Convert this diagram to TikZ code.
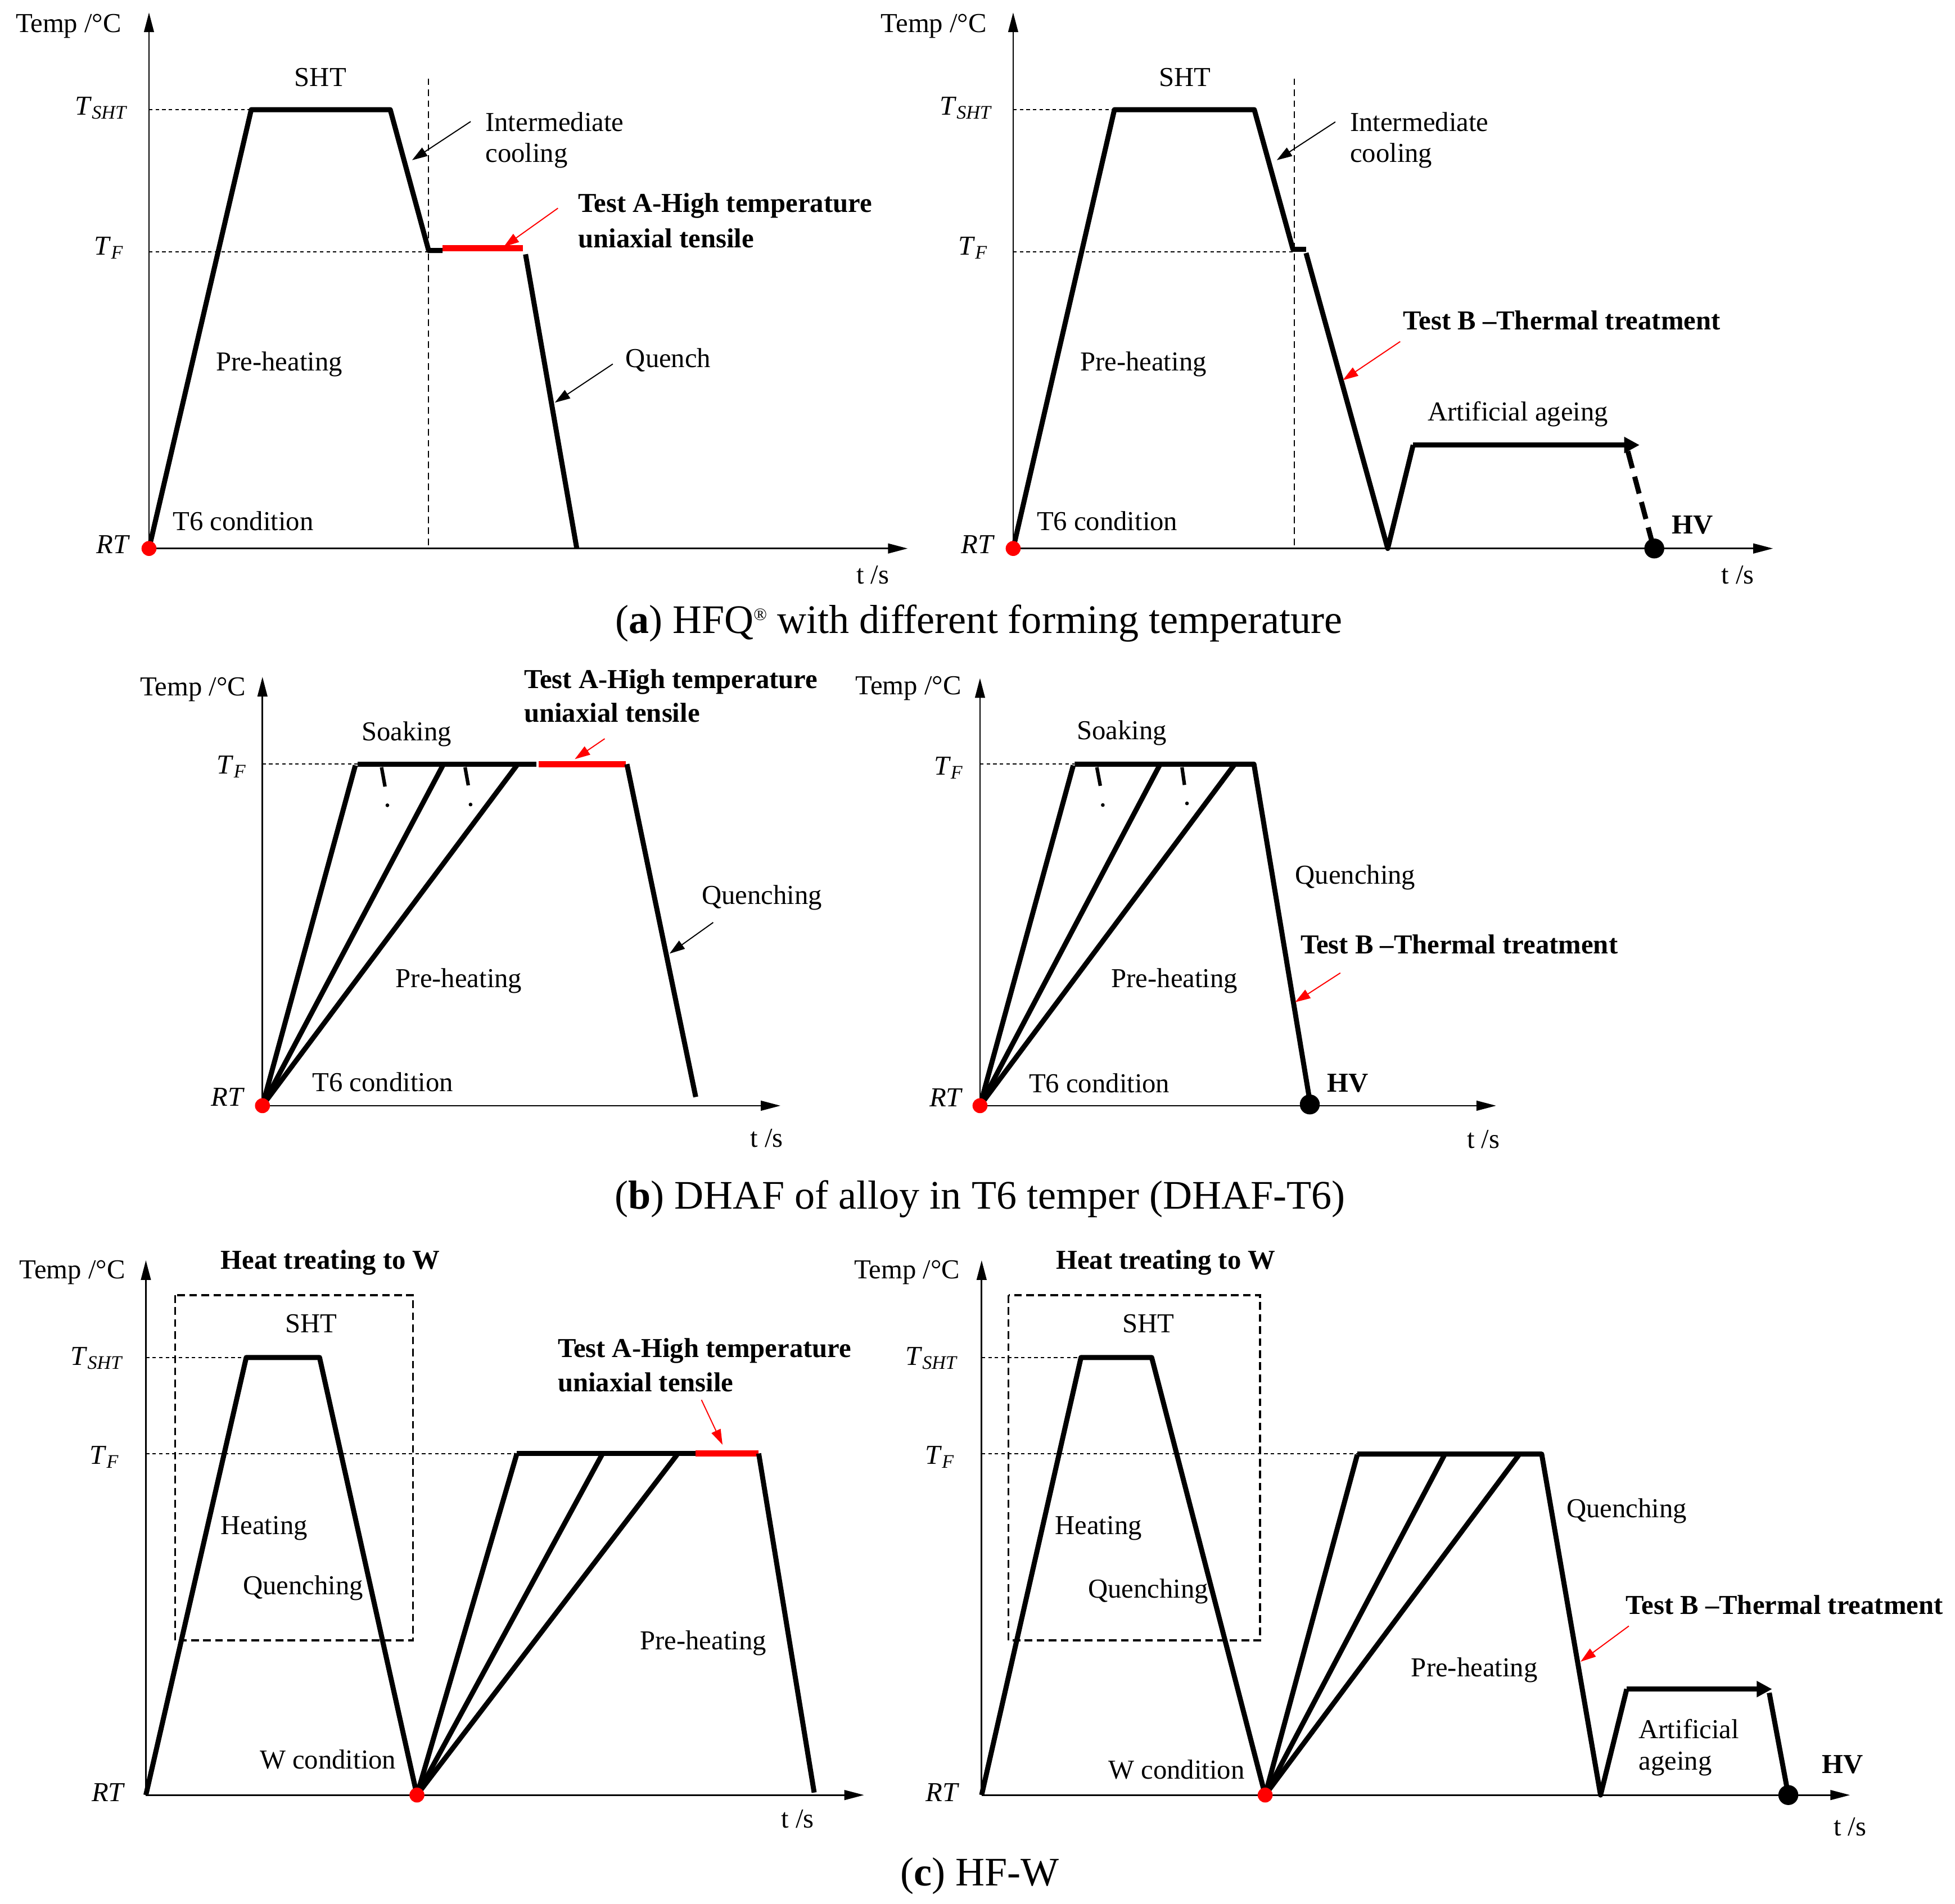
\documentclass[tikz,border=0pt]{standalone}
\usepackage{fontspec}
\setmainfont{Liberation Serif}
\usetikzlibrary{arrows.meta}
\begin{document}
\begin{tikzpicture}[x=0.02cm,y=-0.02cm,
  axisln/.style={line width=0.7pt,-{Triangle[length=9pt,width=4.5pt]}},
  prof/.style={line width=2.3pt,line join=round},
  redseg/.style={line width=2.8pt,red},
  guide/.style={line width=0.5pt,dash pattern=on 1.6pt off 1.4pt},
  vguide/.style={line width=0.5pt,dash pattern=on 3pt off 2pt},
  boxd/.style={line width=0.9pt,dash pattern=on 3.5pt off 2pt},
  lbl/.style={inner sep=0pt,font=\fontsize{12.5}{14}\selectfont},
  blbl/.style={inner sep=0pt,font=\fontsize{12.5}{14}\selectfont\bfseries},
  captxt/.style={inner sep=0pt,font=\fontsize{18.5}{22}\selectfont},
  ann/.style={line width=0.5pt,-{Triangle[length=7pt,width=4.5pt]}},
  rann/.style={ann,red},
  rdot/.style={circle,fill=red,inner sep=0pt,minimum size=0.24cm},
  bdot/.style={circle,fill=black,inner sep=0pt,minimum size=0.32cm},
  ageing/.style={prof,-{Triangle[length=7pt,width=7pt]}},
  tickmk/.style={line width=1.6pt},
]
\useasboundingbox (0,0) rectangle (1568,1527);

% ================= Panel (a) left =================
\coordinate (aO) at (119.5,440);
\coordinate (aY) at (119.5,10);
\coordinate (aX) at (728,440);
\draw[guide] (119.5,88) -- (201.5,88);
\draw[guide] (119.5,202) -- (343.8,202);
\draw[vguide] (343.8,63) -- (343.8,440);
\draw[axisln] (aO) -- (aY);
\draw[axisln] (aO) -- (aX);
\draw[prof] (119.5,440) -- (201.5,88) -- (313,88) -- (343.8,201) -- (355,201);
\draw[redseg] (355,199) -- (419.5,199);
\draw[prof] (421.5,204) -- (462.6,440);
\node[rdot] (aRd) at (aO) {};
\node[lbl] (aTemp) at (55,21) {Temp /°C};
\node[lbl] (aSHT) at (257,62) {SHT};
\node[lbl] (aTs) at (81.5,86.5) {\textit{T}\textsubscript{\textit{SHT}}};
\node[lbl] (aTf) at (87.6,199) {\textit{T}\textsubscript{\textit{F}}};
\node[lbl] (aRT) at (91,437) {\textit{RT}};
\node[lbl,anchor=west] (aIC1) at (389,98) {Intermediate};
\node[lbl,anchor=west] (aIC2) at (389,125) {cooling};
\node[blbl,anchor=west] (aTA1) at (463.5,165) {Test A-High temperature};
\node[blbl,anchor=west] (aTA2) at (463.5,191) {uniaxial tensile};
\node[lbl] (aQ) at (536,289) {Quench};
\node[lbl] (aPH) at (224,292) {Pre-heating};
\node[lbl] (aT6) at (195,418) {T6 condition};
\node[lbl] (aTs2) at (700,461) {t /s};
\coordinate (aICs) at (377.5,97.5); \coordinate (aICe) at (330.5,128.5);
\draw[ann] (aICs) -- (aICe);
\coordinate (aTAs) at (447.5,167); \coordinate (aTAe) at (404,198);
\draw[rann] (aTAs) -- (aTAe);
\coordinate (aQs) at (491.5,292); \coordinate (aQe) at (445,323);
\draw[ann] (aQs) -- (aQe);

% ================= Panel (a) right =================
\coordinate (rO) at (812.6,440);
\coordinate (rY) at (812.6,10);
\coordinate (rX) at (1422,440);
\draw[guide] (812.6,88) -- (893.8,88);
\draw[guide] (812.6,202) -- (1038,202);
\draw[vguide] (1038,63) -- (1038,440);
\draw[axisln] (rO) -- (rY);
\draw[axisln] (rO) -- (rX);
\draw[prof] (812.6,440) -- (893.8,88) -- (1006,88) -- (1037,200) -- (1047.5,200);
\draw[prof] (1047.5,203) -- (1113,440) -- (1133.4,357);
\draw[ageing] (1133.4,357) -- (1315,357);
\draw[prof,dash pattern=on 8pt off 4pt] (1305.6,362) -- (1328,446);
\node[rdot] (rRd) at (rO) {};
\node[bdot] (rHVd) at (1326.8,440) {};
\node[lbl] (rTemp) at (749,21) {Temp /°C};
\node[lbl] (rSHT) at (950.4,62) {SHT};
\node[lbl] (rTs) at (775,86.5) {\textit{T}\textsubscript{\textit{SHT}}};
\node[lbl] (rTf) at (780.6,199) {\textit{T}\textsubscript{\textit{F}}};
\node[lbl] (rRT) at (784.3,437) {\textit{RT}};
\node[lbl,anchor=west] (rIC1) at (1082.5,98) {Intermediate};
\node[lbl,anchor=west] (rIC2) at (1082.5,125) {cooling};
\node[blbl,anchor=west] (rTB) at (1125,257) {Test B –Thermal treatment};
\node[lbl] (rAA) at (1217.4,332) {Artificial ageing};
\node[blbl] (rHV) at (1357.5,421) {HV};
\node[lbl] (rPH) at (917,292) {Pre-heating};
\node[lbl] (rT6) at (888,418) {T6 condition};
\node[lbl] (rTs2) at (1393.8,461) {t /s};
\coordinate (rICs) at (1071,97.8); \coordinate (rICe) at (1024,128.5);
\draw[ann] (rICs) -- (rICe);
\coordinate (rTBs) at (1123,274); \coordinate (rTBe) at (1077,305);
\draw[rann] (rTBs) -- (rTBe);

\node[captxt] (capa) at (785,500) {(\textbf{a}) HFQ\raisebox{0.7ex}{\fontsize{8}{9}\selectfont ®} with different forming temperature};

% ================= Panel (b) left =================
\coordinate (bO) at (210.5,887);
\coordinate (bY) at (210.5,543);
\coordinate (bX) at (626,887);
\draw[guide] (210.5,613) -- (287,613);
\draw[axisln] (bO) -- (bY);
\draw[axisln] (bO) -- (bX);
\draw[prof] (bO) -- (285,614);
\draw[prof] (bO) -- (355.2,614);
\draw[prof] (bO) -- (414.5,614);
\draw[prof] (287,613) -- (430,613);
\draw[redseg] (432,613) -- (501.7,613);
\draw[prof] (502.8,613) -- (558,880);
\draw[tickmk] (306,615.5) -- (308.8,631);
\fill (310.7,646) circle (0.03cm);
\draw[tickmk] (373,615.5) -- (375.6,630);
\fill (377.4,645.4) circle (0.03cm);
\node[rdot] (bRd) at (bO) {};
\node[lbl] (bTemp) at (154.8,553) {Temp /°C};
\node[lbl] (bTf) at (186,615) {\textit{T}\textsubscript{\textit{F}}};
\node[lbl] (bRT) at (183,880) {\textit{RT}};
\node[lbl] (bSoak) at (326,589) {Soaking};
\node[blbl,anchor=west] (bTA1) at (420,547) {Test A-High temperature};
\node[blbl,anchor=west] (bTA2) at (420,572) {uniaxial tensile};
\node[lbl] (bQ) at (611,720) {Quenching};
\node[lbl] (bPH) at (368,787) {Pre-heating};
\node[lbl] (bT6) at (307,868) {T6 condition};
\node[lbl] (bTs2) at (615,913) {t /s};
\coordinate (bTAs) at (485,592.6); \coordinate (bTAe) at (461,609);
\draw[rann] (bTAs) -- (bTAe);
\coordinate (bQs) at (572,740); \coordinate (bQe) at (537,765);
\draw[ann] (bQs) -- (bQe);

% ================= Panel (b) right =================
\coordinate (sO) at (786,887);
\coordinate (sY) at (786,544);
\coordinate (sX) at (1200,887);
\draw[guide] (786,613) -- (862,613);
\draw[axisln] (sO) -- (sY);
\draw[axisln] (sO) -- (sX);
\draw[prof] (sO) -- (860.8,614);
\draw[prof] (sO) -- (930,614);
\draw[prof] (sO) -- (989.6,614);
\draw[prof] (862,613) -- (1005.7,613) -- (1050.8,885);
\draw[tickmk] (879.7,615.5) -- (882.5,630.4);
\fill (884.5,645.8) circle (0.03cm);
\draw[tickmk] (948,615.5) -- (950,629.7);
\fill (952,644.5) circle (0.03cm);
\node[rdot] (sRd) at (sO) {};
\node[bdot] (sHVd) at (1050.5,886) {};
\node[lbl] (sTemp) at (728.7,552) {Temp /°C};
\node[lbl] (sTf) at (761,616) {\textit{T}\textsubscript{\textit{F}}};
\node[lbl] (sRT) at (759,880.5) {\textit{RT}};
\node[lbl] (sSoak) at (899.8,588) {Soaking};
\node[lbl] (sQ) at (1087,704) {Quenching};
\node[blbl,anchor=west] (sTB) at (1042.8,757.4) {Test B –Thermal treatment};
\node[lbl] (sPH) at (942,787) {Pre-heating};
\node[lbl] (sT6) at (881.7,869) {T6 condition};
\node[blbl] (sHV) at (1081,869) {HV};
\node[lbl] (sTs2) at (1189.7,914) {t /s};
\coordinate (sTBs) at (1075,780.5); \coordinate (sTBe) at (1038.7,804);
\draw[rann] (sTBs) -- (sTBe);

\node[captxt] (capb) at (786,962) {(\textbf{b}) DHAF of alloy in T6 temper (DHAF-T6)};

% ================= Panel (c) left =================
\coordinate (cO) at (117,1440);
\coordinate (cY) at (117,1011);
\coordinate (cX) at (693,1440);
\coordinate (cW) at (334.4,1440);
\draw[guide] (117,1089) -- (197.5,1089);
\draw[guide] (117,1166) -- (414.6,1166);
\draw[boxd] (140.4,1039) rectangle (331.2,1316);
\draw[axisln] (cO) -- (cY);
\draw[axisln] (cO) -- (cX);
\draw[prof] (117,1440) -- (197.5,1089) -- (256.3,1089) -- (cW);
\draw[prof] (cW) -- (414.6,1166);
\draw[prof] (cW) -- (482.8,1167);
\draw[prof] (cW) -- (543,1167);
\draw[prof] (414.6,1166) -- (558,1166);
\draw[redseg] (558,1166) -- (608.5,1166);
\draw[prof] (608.5,1166) -- (653,1438);
\node[rdot] (cRd) at (cW) {};
\node[lbl] (cTemp) at (58,1020.6) {Temp /°C};
\node[blbl] (cHT) at (265,1013) {Heat treating to W};
\node[lbl] (cSHT) at (249.6,1062) {SHT};
\node[lbl] (cTs) at (78,1089.6) {\textit{T}\textsubscript{\textit{SHT}}};
\node[lbl] (cTf) at (84,1169) {\textit{T}\textsubscript{\textit{F}}};
\node[lbl] (cRT) at (87,1438) {\textit{RT}};
\node[lbl] (cHeat) at (211.8,1226) {Heating};
\node[lbl] (cQ) at (243,1273.7) {Quenching};
\node[lbl] (cWc) at (263,1411.7) {W condition};
\node[blbl,anchor=west] (cTA1) at (447,1083.5) {Test A-High temperature};
\node[blbl,anchor=west] (cTA2) at (447,1109) {uniaxial tensile};
\node[lbl] (cPH) at (564,1318) {Pre-heating};
\node[lbl] (cTs2) at (639.7,1459) {t /s};
\coordinate (cTAs) at (562.6,1123); \coordinate (cTAe) at (579.5,1159);
\draw[rann] (cTAs) -- (cTAe);

% ================= Panel (c) right =================
\coordinate (dO) at (787.3,1440);
\coordinate (dY) at (787.3,1011);
\coordinate (dX) at (1483.8,1440);
\coordinate (dW) at (1014.7,1440);
\draw[guide] (787.3,1089) -- (866,1089);
\draw[guide] (787.3,1166.3) -- (1088.6,1166.3);
\draw[boxd] (808.9,1039) rectangle (1010.7,1316);
\draw[axisln] (dO) -- (dY);
\draw[axisln] (dO) -- (dX);
\draw[prof] (787.3,1440) -- (867,1089) -- (923.7,1089) -- (dW);
\draw[prof] (dW) -- (1088.6,1167);
\draw[prof] (dW) -- (1158.6,1167);
\draw[prof] (dW) -- (1218.3,1167);
\draw[prof] (1088.6,1166.5) -- (1236.5,1166.5) -- (1283.7,1440) -- (1304.7,1355);
\draw[ageing] (1304.7,1355) -- (1421.3,1355);
\draw[prof] (1419,1358) -- (1434.3,1440);
\node[rdot] (dRd) at (dW) {};
\node[bdot] (dHVd) at (1434.3,1440) {};
\node[lbl] (dTemp) at (727.6,1020.6) {Temp /°C};
\node[blbl] (dHT) at (935,1013) {Heat treating to W};
\node[lbl] (dSHT) at (921,1062) {SHT};
\node[lbl] (dTs) at (747.5,1089.6) {\textit{T}\textsubscript{\textit{SHT}}};
\node[lbl] (dTf) at (754,1169) {\textit{T}\textsubscript{\textit{F}}};
\node[lbl] (dRT) at (756,1438) {\textit{RT}};
\node[lbl] (dHeat) at (881,1226) {Heating};
\node[lbl] (dQ1) at (921,1276.8) {Quenching};
\node[lbl] (dWc) at (943.6,1419.4) {W condition};
\node[lbl] (dQ2) at (1304.7,1212.3) {Quenching};
\node[blbl,anchor=west] (dTB) at (1303.6,1287.5) {Test B –Thermal treatment};
\node[lbl] (dPH) at (1182.5,1339.7) {Pre-heating};
\node[lbl,anchor=west] (dAA1) at (1314,1387) {Artificial};
\node[lbl,anchor=west] (dAA2) at (1314,1414.8) {ageing};
\node[blbl] (dHV) at (1478,1415.7) {HV};
\node[lbl] (dTs2) at (1483.8,1465.4) {t /s};
\coordinate (dTBs) at (1306.4,1304.4); \coordinate (dTBe) at (1267.7,1333);
\draw[rann] (dTBs) -- (dTBe);

\node[captxt] (capc) at (786,1505) {(\textbf{c}) HF-W};
\end{tikzpicture}
\end{document}
